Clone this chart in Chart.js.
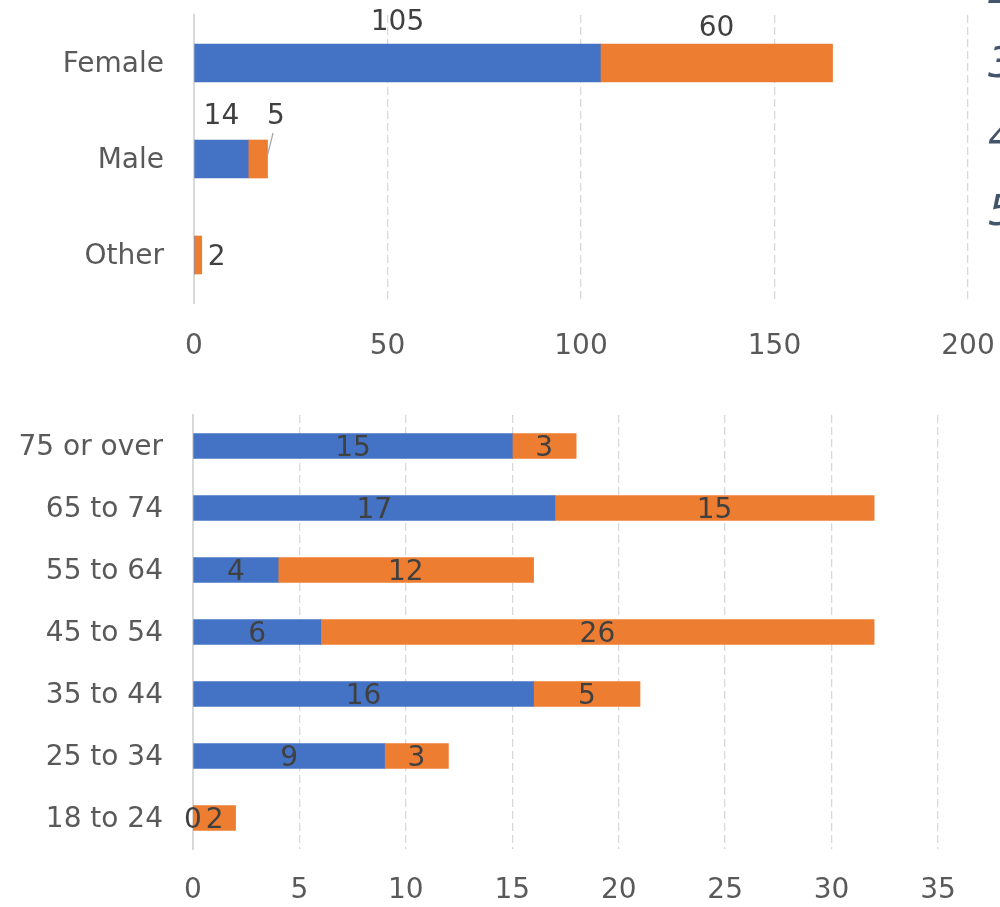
<!DOCTYPE html>
<html>
<head>
<meta charset="utf-8">
<script src="https://cdn.jsdelivr.net/npm/chart.js@4/dist/chart.umd.min.js"></script>
<style>
  html, body { margin: 0; padding: 0; background: #fff; width: 1000px; height: 907px; overflow: hidden; position: relative; }
  canvas { position: absolute; left: 0; }
  #genderChart { top: 0; }
  #ageChart { top: 385px; }
  .side { position: absolute; left: 988px; font: italic 43px "DejaVu Sans", sans-serif; color: #44546A; line-height: 1; }
</style>
</head>
<body>
<canvas id="genderChart" width="1000" height="385"></canvas>
<canvas id="ageChart" width="1000" height="522"></canvas>
<div class="side" style="top:-33px">2</div>
<div class="side" style="top:41px">3</div>
<div class="side" style="top:115px">4</div>
<div class="side" style="top:189px">5</div>
<script>
// Gender breakdown
const genderLabels = ['Female', 'Male', 'Other'];
const genderBlue = [105, 14, 0];
const genderOrange = [60, 5, 2];
const genderTicks = [0, 50, 100, 150, 200];

// Age-group breakdown (top row first)
const ageLabels = ['75 or over', '65 to 74', '55 to 64', '45 to 54', '35 to 44', '25 to 34', '18 to 24'];
const ageBlue = [15, 17, 4, 6, 16, 9, 0];
const ageOrange = [3, 15, 12, 26, 5, 3, 2];
const ageTicks = [0, 5, 10, 15, 20, 25, 30, 35];

const BLUE = '#4472C4';
const ORANGE = '#ED7D31';
const FONT = '"DejaVu Sans", sans-serif';
const FONT_SIZE = 28;
const AXIS_TEXT = '#595959';
const LABEL_TEXT = '#404040';
const GRID = '#d9d9d9';

// Draws the value of every bar segment; placement rules come from plugin options.
const segmentLabels = {
  id: 'segmentLabels',
  afterDatasetsDraw(chart, args, opts) {
    const ctx = chart.ctx;
    ctx.save();
    ctx.font = opts.font;
    ctx.fillStyle = LABEL_TEXT;
    ctx.textBaseline = 'middle';
    chart.data.datasets.forEach((ds, di) => {
      const meta = chart.getDatasetMeta(di);
      meta.data.forEach((el, i) => {
        const rule = (opts.place && opts.place[di] && opts.place[di][i]) || opts.defaultPlace;
        if (!rule || rule.hide) return;
        const v = ds.data[i];
        let x = rule.anchor === 'end' ? el.x : (el.x + el.base) / 2;
        let y = el.y;
        x += rule.dx || 0;
        y += rule.dy || 0;
        ctx.textAlign = rule.align || 'center';
        ctx.fillText(String(v), x, y);
        if (rule.leader) {
          ctx.strokeStyle = '#a6a6a6';
          ctx.lineWidth = 1.2;
          ctx.beginPath();
          ctx.moveTo(el.x + rule.leader[0], el.y + rule.leader[1]);
          ctx.lineTo(el.x + rule.leader[2], el.y + rule.leader[3]);
          ctx.stroke();
        }
      });
    });
    ctx.restore();
  }
};

function makeOptions(cfg) {
  return {
    indexAxis: 'y',
    responsive: false,
    animation: false,
    events: [],
    layout: { padding: { left: 0, top: cfg.padTop, right: cfg.padRight, bottom: 0 } },
    plugins: {
      legend: { display: false },
      tooltip: { enabled: false },
      segmentLabels: cfg.labels
    },
    scales: {
      x: {
        stacked: true,
        min: cfg.ticks[0],
        max: cfg.ticks[cfg.ticks.length - 1],
        afterBuildTicks: (axis) => { axis.ticks = cfg.ticks.map(v => ({ value: v })); },
        afterFit: (axis) => {
          axis.height = cfg.xHeight;
          axis.paddingLeft = 0; axis.paddingRight = 0;
        },
        grid: { color: GRID, lineWidth: 1.3, drawTicks: false },
        border: { display: false, dash: [8, 4] },
        ticks: { color: AXIS_TEXT, font: { family: FONT, size: FONT_SIZE }, padding: cfg.tickPad }
      },
      y: {
        stacked: true,
        afterFit: (axis) => {
          axis.width = cfg.yWidth;
          axis.paddingTop = 0; axis.paddingBottom = 0;
        },
        grid: { display: false, drawTicks: false },
        border: { display: true, color: GRID, width: 2 },
        ticks: { color: AXIS_TEXT, font: { family: FONT, size: FONT_SIZE }, padding: cfg.yPad, labelOffset: 2 }
      }
    }
  };
}

new Chart(document.getElementById('genderChart'), {
  type: 'bar',
  data: {
    labels: genderLabels,
    datasets: [
      { data: genderBlue, backgroundColor: BLUE, barThickness: 38 },
      { data: genderOrange, backgroundColor: ORANGE, barThickness: 38 }
    ]
  },
  options: makeOptions({
    padTop: 15, padRight: 32, xHeight: 82, yWidth: 194, tickPad: 27, yPad: 30, ticks: genderTicks,
    labels: {
      font: FONT_SIZE + 'px ' + FONT,
      place: [
        [{ dy: -40 }, { dy: -42 }, { hide: true }],
        [{ dy: -34 }, { dx: 18, dy: -42, leader: [5.5, -26, 0, -4] }, { anchor: 'end', dx: 6, dy: 3, align: 'left' }]
      ]
    }
  }),
  plugins: [segmentLabels]
});

new Chart(document.getElementById('ageChart'), {
  type: 'bar',
  data: {
    labels: ageLabels,
    datasets: [
      { data: ageBlue, backgroundColor: BLUE, barThickness: 25 },
      { data: ageOrange, backgroundColor: ORANGE, barThickness: 25 }
    ]
  },
  options: makeOptions({
    padTop: 30, padRight: 62, xHeight: 58, yWidth: 193, tickPad: 25, yPad: 30, ticks: ageTicks,
    labels: { font: FONT_SIZE + 'px ' + FONT, defaultPlace: { dy: 3 } }
  }),
  plugins: [segmentLabels]
});
</script>
</body>
</html>
